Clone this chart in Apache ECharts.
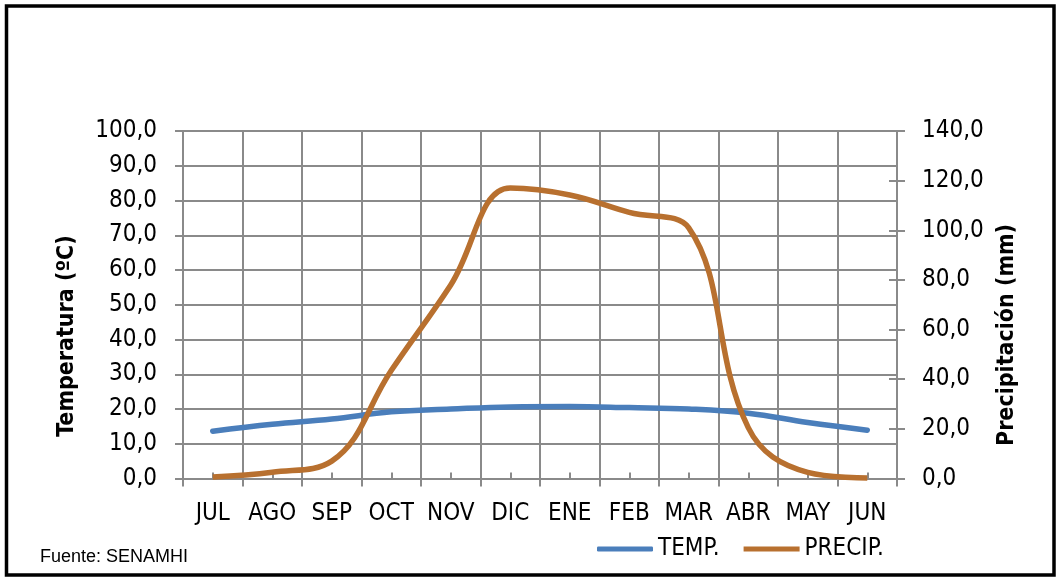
<!DOCTYPE html>
<html>
<head>
<meta charset="utf-8">
<script src="https://cdn.jsdelivr.net/npm/echarts@6/dist/echarts.min.js"></script>
<style>
  html, body { margin: 0; padding: 0; background: #ffffff; }
  #chart { width: 1060px; height: 580px; }
</style>
</head>
<body>
<div id="chart"></div>
<script>
// Climate diagram: monthly mean temperature and precipitation
const months = ['JUL', 'AGO', 'SEP', 'OCT', 'NOV', 'DIC', 'ENE', 'FEB', 'MAR', 'ABR', 'MAY', 'JUN'];
const temperature = [13.6, 15.6, 17.1, 19.2, 20.0, 20.6, 20.7, 20.4, 20.0, 18.8, 16.1, 13.9];
const precipitation = [0.6, 2.5, 7.0, 43.5, 78.0, 117.0, 114.2, 107.2, 101.0, 20.5, 2.5, 0.2];
const seriesNames = ['TEMP.', 'PRECIP.'];
const leftAxisTitle = 'Temperatura (ºC)';
const rightAxisTitle = 'Precipitación (mm)';
const sourceNote = 'Fuente: SENAMHI';

const NARROW = "'DejaVu Sans Condensed', 'Liberation Sans Narrow', sans-serif";
const GRID_COLOR = '#8a8a8a';
const BLUE = '#4a7ebb';
const ORANGE = '#b8702f';

const fmt = v => v.toFixed(1).replace('.', ',');

const chart = echarts.init(document.getElementById('chart'), null, { renderer: 'canvas' });

const labelStyle = { fontFamily: NARROW, fontSize: 24, color: '#000' };

chart.setOption({
  animation: false,
  backgroundColor: '#ffffff',
  grid: { left: 183, right: 163, top: 131, bottom: 101.5, containLabel: false },
  legend: {
    left: 597,
    top: 537,
    padding: 0,
    itemWidth: 56,
    itemHeight: 5,
    itemGap: 24,
    textStyle: { fontFamily: NARROW, fontSize: 24, color: '#000' },
    data: [
      { name: seriesNames[0], icon: 'roundRect' },
      { name: seriesNames[1], icon: 'rect' }
    ]
  },
  xAxis: [
    {
      type: 'category',
      data: months,
      boundaryGap: true,
      axisLine: { show: true, lineStyle: { color: GRID_COLOR, width: 2 } },
      axisTick: { show: true, length: 8, lineStyle: { color: GRID_COLOR, width: 2 } },
      axisLabel: Object.assign({ margin: 23, interval: 0 }, labelStyle),
      splitLine: { show: true, lineStyle: { color: GRID_COLOR, width: 2 } }
    },
    {
      // small inward marks at the month centres
      type: 'category',
      data: months,
      position: 'bottom',
      boundaryGap: true,
      axisLine: { show: false },
      axisTick: { show: true, inside: true, alignWithLabel: true, interval: 0, length: 6, lineStyle: { color: GRID_COLOR, width: 2 } },
      axisLabel: { show: false },
      splitLine: { show: false }
    }
  ],
  yAxis: [
    {
      type: 'value',
      min: 0, max: 100, interval: 10,
      position: 'left',
      axisLine: { show: true, lineStyle: { color: GRID_COLOR, width: 2 } },
      axisTick: { show: true, length: 8, lineStyle: { color: GRID_COLOR, width: 2 } },
      axisLabel: Object.assign({ margin: 26, formatter: fmt }, labelStyle),
      splitLine: { show: true, lineStyle: { color: GRID_COLOR, width: 2 } }
    },
    {
      type: 'value',
      min: 0, max: 140, interval: 20,
      position: 'right',
      axisLine: { show: true, lineStyle: { color: GRID_COLOR, width: 2 } },
      axisTick: { show: true, length: 8, lineStyle: { color: GRID_COLOR, width: 2 } },
      axisLabel: Object.assign({ margin: 25, formatter: fmt }, labelStyle),
      splitLine: { show: false }
    },
    {
      // inner half of the crossing ticks on the precipitation axis
      type: 'value',
      min: 0, max: 140, interval: 20,
      position: 'right',
      axisLine: { show: false },
      axisTick: { show: true, inside: true, length: 8, lineStyle: { color: GRID_COLOR, width: 2 } },
      axisLabel: { show: false },
      splitLine: { show: false }
    }
  ],
  series: [
    {
      name: seriesNames[0],
      type: 'line',
      xAxisIndex: 0,
      yAxisIndex: 0,
      data: temperature,
      smooth: 0.4,
      showSymbol: false,
      symbol: 'none',
      lineStyle: { color: BLUE, width: 5.5, cap: 'round' },
      itemStyle: { color: BLUE },
      z: 3
    },
    {
      name: seriesNames[1],
      type: 'line',
      xAxisIndex: 0,
      yAxisIndex: 1,
      data: precipitation,
      smooth: 0.4,
      showSymbol: false,
      symbol: 'none',
      lineStyle: { color: ORANGE, width: 5.5 },
      itemStyle: { color: ORANGE },
      z: 4
    }
  ],
  graphic: [
    {
      type: 'rect',
      shape: { x: 6.5, y: 6, width: 1047.5, height: 569 },
      style: { fill: 'none', stroke: '#000', lineWidth: 3.5 },
      silent: true
    },
    {
      type: 'text',
      x: 67, y: 336, rotation: Math.PI / 2,
      style: {
        text: leftAxisTitle, fontFamily: NARROW, fontSize: 23, fontWeight: 'bold',
        fill: '#000', align: 'center', verticalAlign: 'middle'
      }
    },
    {
      type: 'text',
      x: 1007, y: 335, rotation: Math.PI / 2,
      style: {
        text: rightAxisTitle, fontFamily: NARROW, fontSize: 23, fontWeight: 'bold',
        fill: '#000', align: 'center', verticalAlign: 'middle'
      }
    },
    {
      type: 'text',
      x: 40, y: 557,
      style: {
        text: sourceNote, fontFamily: "'Liberation Sans', Arial, sans-serif", fontSize: 18,
        fill: '#000', align: 'left', verticalAlign: 'middle'
      }
    }
  ]
});
</script>
</body>
</html>
